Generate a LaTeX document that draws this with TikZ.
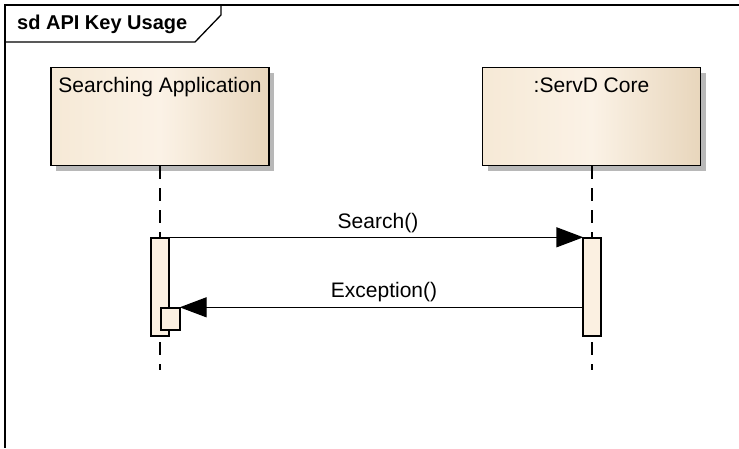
\documentclass[tikz,border=0pt]{standalone}
\usepackage{fontspec}
\setmainfont{Liberation Sans}
\usetikzlibrary{arrows.meta,shadows}
\definecolor{boxL}{HTML}{F6E9D6}
\definecolor{boxM}{HTML}{FBF2E6}
\definecolor{boxR}{HTML}{E8D6BC}
\definecolor{actfill}{HTML}{FBF0E1}
\definecolor{shadowgray}{HTML}{B8B8B8}
\tikzset{
  lifebox/.style={draw=black, line width=1.4pt, minimum width=218pt, minimum height=98pt,
    left color=boxL, right color=boxR, middle color=boxM, shading angle=90,
    drop shadow={shadow xshift=5pt, shadow yshift=-5pt, fill=shadowgray, opacity=1},
    inner sep=0pt},
  lifetext/.style={font=\fontsize{21}{25}\selectfont, inner sep=0pt, anchor=base},
  actbox/.style={draw=black, line width=1.4pt, fill=actfill, inner sep=0pt},
  lifeline/.style={line width=1.4pt, dash pattern=on 13pt off 9pt},
  msg/.style={line width=1.4pt, -{Triangle[length=27pt 0,width=20pt 0]}, shorten >=-1pt},
  msglabel/.style={font=\fontsize{21}{25}\selectfont, inner sep=0pt, anchor=base},
  frameline/.style={line width=1.3pt}
}
\begin{document}
\begin{tikzpicture}[x=1pt,y=-1pt]
\useasboundingbox (0,0) rectangle (739,448);
% frame
\draw[frameline] (739,5) -- (5,5) -- (5,448);
\draw[frameline] (5,42) -- (195,42) -- (221,15) -- (221,5);
\node[font=\bfseries\fontsize{20}{24}\selectfont, inner sep=0pt, anchor=base west] (title) at (17,29) {sd API Key Usage};
% lifeline heads
\node[lifebox] (app) at (160,116.5) {};
\node[lifebox] (core) at (591.5,116.5) {};
\node[lifetext] (applabel) at (160,92) {Searching Application};
\node[lifetext] (corelabel) at (591.5,92) {:ServD Core};
% lifelines
\coordinate (append) at (160,370);
\coordinate (coreend) at (592,370);
\draw[lifeline] (app.south -| append) -- (append);
\draw[lifeline] (core.south -| coreend) -- (coreend);
% activations
\node[actbox, minimum width=18pt, minimum height=98pt] (actL) at (160,287) {};
\node[actbox, minimum width=18pt, minimum height=98pt] (actR) at (592,287) {};
\node[actbox, minimum width=19pt, minimum height=22pt] (sub) at (170.5,319) {};
% messages
\draw[msg] (actL.north east) -- (actR.north west);
\node[msglabel] (l1) at (378,228) {Search()};
\coordinate (exstart) at (actR.west |- sub.north);
\draw[msg] (exstart) -- (sub.north east);
\node[msglabel] (l2) at (384,297) {Exception()};
\end{tikzpicture}
\end{document}
